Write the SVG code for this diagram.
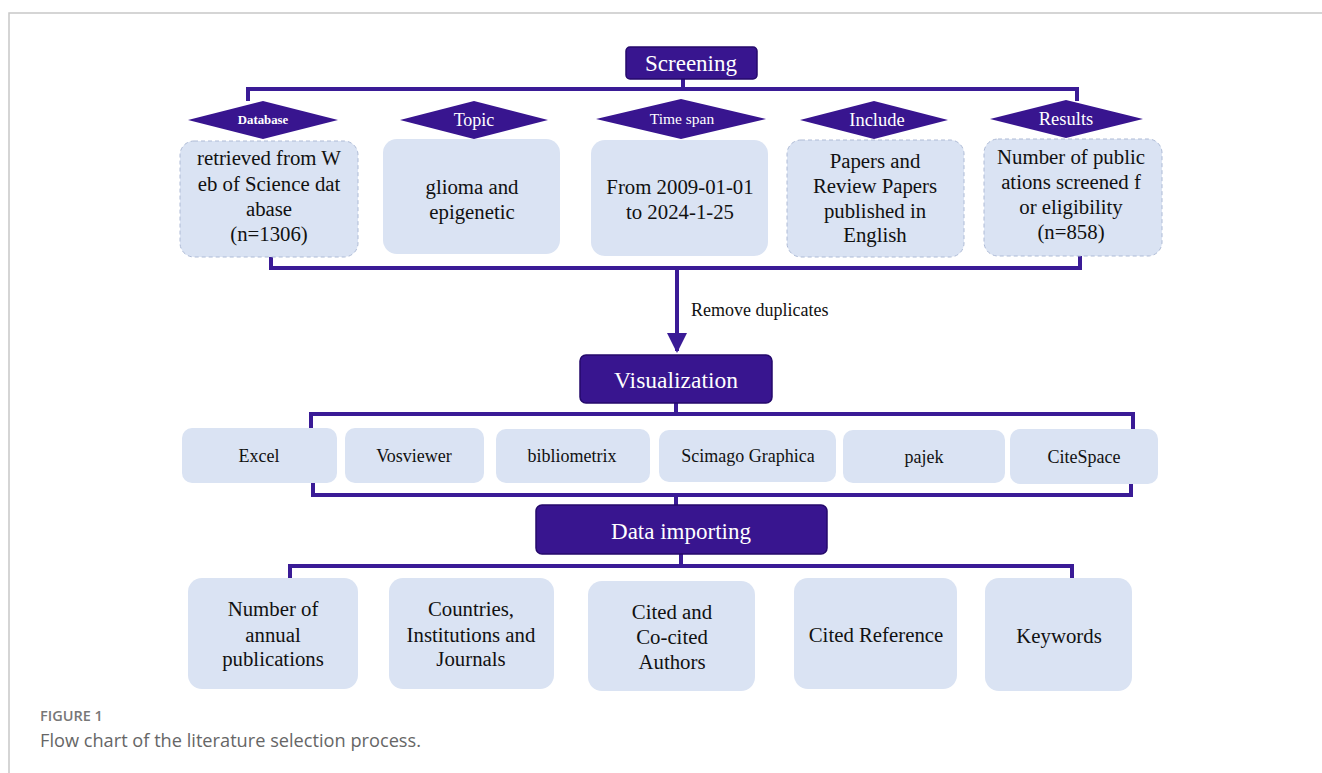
<svg xmlns="http://www.w3.org/2000/svg" width="1322" height="773" viewBox="0 0 1322 773">
  <style>
    .frame { fill: none; stroke: #c8c8c8; stroke-width: 1.5; }
    .head { fill: #38158f; stroke: #24096b; stroke-width: 1.5; }
    .headtxt { font-family: "Liberation Serif", serif; fill: #ffffff; text-anchor: middle; }
    .dia { fill: #38158f; }
    .box { fill: #dae3f3; }
    .dash { stroke: #aebbd6; stroke-width: 1; stroke-dasharray: 4 3; }
    .txt { font-family: "Liberation Serif", serif; fill: #111111; text-anchor: middle; font-size: 20.8px; }
    .tool { font-family: "Liberation Serif", serif; fill: #111111; text-anchor: middle; font-size: 18px; }
    .wire { fill: none; stroke: #3a1b96; stroke-width: 4; }
    .cap1 { font-family: "Open Sans", sans-serif; font-weight: 600; font-size: 14.5px; fill: #777777; }
    .cap2 { font-family: "Open Sans", sans-serif; font-size: 18.2px; fill: #666666; }
  </style>
  <defs>
    <marker id="arrow" markerWidth="5" markerHeight="5" refX="4.5" refY="2.5" orient="auto" markerUnits="strokeWidth">
      <path d="M0,0 L5,2.5 L0,5 z" fill="#3a1b96"/>
    </marker>
  </defs>

  <rect width="1322" height="773" fill="#ffffff"/>
  <!-- figure frame -->
  <path class="frame" d="M9,773 V13 H1322"/>

  <!-- connectors -->
  <g id="connectors">
    <path class="wire" d="M683,79 V89 M248,101 V89 H1077 V101"/>
    <path class="wire" d="M271,257 V268 H1080 V256"/>
    <path class="wire" d="M677,268 V351" marker-end="url(#arrow)"/>
    <path class="wire" d="M676,403 V414 M311,429 V414 H1133 V429"/>
    <path class="wire" d="M313,483 V495 H1131 V483 M676,495 V505"/>
    <path class="wire" d="M681,554 V566 M290,578 V566 H1072 V578"/>
    <text x="691" y="316" font-family="Liberation Serif, serif" font-size="18" fill="#111111">Remove duplicates</text>
  </g>

  <!-- screening stage -->
  <g id="screening">
    <rect class="head" x="626" y="47" width="131" height="32" rx="4"/>
    <text class="headtxt" x="691" y="71" font-size="23">Screening</text>
  </g>

  <g id="database">
    <rect class="box dash" x="180" y="141" width="178" height="116" rx="14"/>
    <polygon class="dia" points="188,120 263,101 338,120 263,139"/>
    <text class="headtxt" x="263" y="124" font-size="12.8" font-weight="bold">Database</text>
    <text class="txt" x="269" y="165">retrieved from W</text>
    <text class="txt" x="269" y="191">eb of Science dat</text>
    <text class="txt" x="269" y="216">abase</text>
    <text class="txt" x="269" y="241">(n=1306)</text>
  </g>

  <g id="topic">
    <rect class="box" x="383" y="139" width="177" height="115" rx="14"/>
    <polygon class="dia" points="400,120 474,101 548,120 474,139"/>
    <text class="headtxt" x="474" y="126" font-size="18">Topic</text>
    <text class="txt" x="472" y="194">glioma and</text>
    <text class="txt" x="472" y="219">epigenetic</text>
  </g>

  <g id="timespan">
    <rect class="box" x="591" y="140" width="177" height="116" rx="14"/>
    <polygon class="dia" points="596,119 681,99 766,119 681,139"/>
    <text class="headtxt" x="682" y="124" font-size="15.5">Time span</text>
    <text class="txt" x="680" y="194">From 2009-01-01</text>
    <text class="txt" x="680" y="219">to 2024-1-25</text>
  </g>

  <g id="include">
    <rect class="box dash" x="787" y="140" width="177" height="117" rx="14"/>
    <polygon class="dia" points="800,120 874,101 948,120 874,139"/>
    <text class="headtxt" x="877" y="126" font-size="18.5">Include</text>
    <text class="txt" x="875" y="168">Papers and</text>
    <text class="txt" x="875" y="193">Review Papers</text>
    <text class="txt" x="875" y="218">published in</text>
    <text class="txt" x="875" y="242">English</text>
  </g>

  <g id="results">
    <rect class="box dash" x="984" y="139" width="178" height="117" rx="14"/>
    <polygon class="dia" points="990,119 1066,100 1143,119 1066,138"/>
    <text class="headtxt" x="1066" y="125" font-size="18.5">Results</text>
    <text class="txt" x="1071" y="164">Number of public</text>
    <text class="txt" x="1071" y="189">ations screened f</text>
    <text class="txt" x="1071" y="214">or eligibility</text>
    <text class="txt" x="1071" y="239">(n=858)</text>
  </g>

  <!-- visualization stage -->
  <g id="visualization">
    <rect class="head" x="580" y="355" width="192" height="48" rx="6"/>
    <text class="headtxt" x="676" y="388" font-size="23.5">Visualization</text>
  </g>

  <g id="excel">
    <rect class="box" x="182" y="428" width="155" height="55" rx="10"/>
    <text class="tool" x="259" y="462">Excel</text>
  </g>
  <g id="vosviewer">
    <rect class="box" x="345" y="428" width="139" height="55" rx="10"/>
    <text class="tool" x="414" y="462">Vosviewer</text>
  </g>
  <g id="bibliometrix">
    <rect class="box" x="496" y="429" width="154" height="54" rx="10"/>
    <text class="tool" x="572" y="462">bibliometrix</text>
  </g>
  <g id="scimago">
    <rect class="box" x="659" y="430" width="177" height="52" rx="10"/>
    <text class="tool" x="748" y="462">Scimago Graphica</text>
  </g>
  <g id="pajek">
    <rect class="box" x="843" y="430" width="162" height="53" rx="10"/>
    <text class="tool" x="924" y="463">pajek</text>
  </g>
  <g id="citespace">
    <rect class="box" x="1010" y="429" width="148" height="55" rx="10"/>
    <text class="tool" x="1084" y="463">CiteSpace</text>
  </g>

  <!-- data importing stage -->
  <g id="dataimporting">
    <rect class="head" x="536" y="505" width="291" height="49" rx="6"/>
    <text class="headtxt" x="681" y="539" font-size="23">Data importing</text>
  </g>

  <g id="annual">
    <rect class="box" x="188" y="578" width="170" height="111" rx="14"/>
    <text class="txt" x="273" y="616">Number of</text>
    <text class="txt" x="273" y="642">annual</text>
    <text class="txt" x="273" y="666">publications</text>
  </g>
  <g id="countries">
    <rect class="box" x="389" y="578" width="165" height="111" rx="14"/>
    <text class="txt" x="471" y="616">Countries,</text>
    <text class="txt" x="471" y="642">Institutions and</text>
    <text class="txt" x="471" y="666">Journals</text>
  </g>
  <g id="authors">
    <rect class="box" x="588" y="581" width="167" height="110" rx="14"/>
    <text class="txt" x="672" y="619">Cited and</text>
    <text class="txt" x="672" y="644">Co-cited</text>
    <text class="txt" x="672" y="669">Authors</text>
  </g>
  <g id="citedref">
    <rect class="box" x="794" y="578" width="163" height="111" rx="14"/>
    <text class="txt" x="876" y="642">Cited Reference</text>
  </g>
  <g id="keywords">
    <rect class="box" x="985" y="578" width="147" height="113" rx="14"/>
    <text class="txt" x="1059" y="643">Keywords</text>
  </g>

  <!-- caption -->
  <text class="cap1" x="40" y="721">FIGURE 1</text>
  <text class="cap2" x="40" y="747">Flow chart of the literature selection process.</text>
</svg>
